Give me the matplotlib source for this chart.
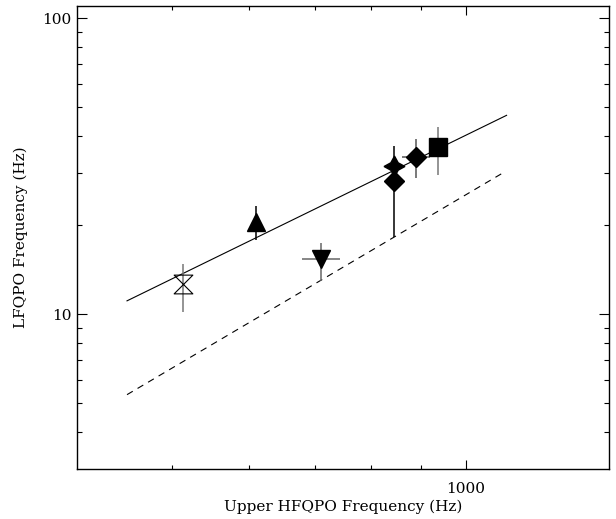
import matplotlib
matplotlib.use("Agg")
import matplotlib.pyplot as plt
from matplotlib.path import Path
from matplotlib.ticker import FixedLocator, NullFormatter

plt.rcParams['font.family'] = ['DejaVu Serif']

# upper HFQPO vs LFQPO frequencies, one marker per source
nu_upper = [513, 609, 710, 844, 844, 889, 935]
nu_lf = [12.7, 20.5, 15.4, 31.8, 28.2, 34.0, 36.6]
lf_lo = [10.2, 17.8, 13.0, 28.5, 18.2, 28.8, 29.6]
lf_hi = [14.8, 23.2, 17.4, 37.1, 31.0, 39.1, 42.8]
upper_lo = [513, 609, 679, 844, 844, 859, 935]
upper_hi = [513, 609, 743, 844, 844, 919, 935]

# power-law relations (solid: fit, dashed: lower bound)
fit_x = [450, 1100]
fit_y = [11.1, 47.0]
bound_x = [450, 1090]
bound_y = [5.35, 30.0]

hourglass = Path([(-1, 1), (1, 1), (-1, -1), (1, -1), (-1, 1)],
                 [Path.MOVETO, Path.LINETO, Path.LINETO, Path.LINETO, Path.CLOSEPOLY])

markers = [hourglass, '^', 'v', (4, 1, 0), 'D', 'D', 's']
sizes = [13.5, 13, 13, 15, 10.5, 10.5, 13]
filled = [False, True, True, True, True, True, True]
bar_colors = ['#777777', 'black', '#666666', 'black', 'black', '#555555', '#777777']

fig = plt.figure(figsize=(6.16, 5.19), dpi=100)
ax = fig.add_axes([0.125, 0.0963, 0.8636, 0.8921])
ax.set_xscale('log')
ax.set_yscale('log')

ax.plot(fit_x, fit_y, color='black', lw=0.8)
ax.plot(bound_x, bound_y, color='black', lw=0.8, ls=(0, (6, 5)))

for i in range(len(nu_upper)):
    x, y = nu_upper[i], nu_lf[i]
    yerr = [[y - lf_lo[i]], [lf_hi[i] - y]]
    xerr = [[x - upper_lo[i]], [upper_hi[i] - x]]
    ax.errorbar([x], [y], yerr=yerr, xerr=xerr, fmt='none',
                ecolor=bar_colors[i], elinewidth=1.1, capsize=0, zorder=2)
    if filled[i]:
        ax.plot([x], [y], marker=markers[i], ms=sizes[i], color='black',
                mec='black', ls='none', zorder=3)
    else:
        ax.plot([x], [y], marker=markers[i], ms=sizes[i], mfc='none',
                mec='black', mew=0.8, ls='none', zorder=3)

ax.set_xlim(400, 1400)
ax.set_ylim(3, 110)

ax.xaxis.set_major_locator(FixedLocator([1000]))
ax.xaxis.set_minor_locator(FixedLocator([500, 600, 700, 800, 900]))
ax.set_xticklabels(['1000'])
ax.xaxis.set_minor_formatter(NullFormatter())

ax.yaxis.set_major_locator(FixedLocator([10, 100]))
ax.yaxis.set_minor_locator(FixedLocator([4, 5, 6, 7, 8, 9, 20, 30, 40, 50, 60, 70, 80, 90]))
ax.set_yticklabels(['10', '100'])
ax.yaxis.set_minor_formatter(NullFormatter())

ax.tick_params(which='both', direction='in', top=True, right=True, width=0.8, labelsize=11)
ax.tick_params(axis='x', which='major', length=6.5, pad=9)
ax.tick_params(axis='x', which='minor', length=3.2)
ax.tick_params(axis='y', which='major', length=7.2, pad=4)
ax.tick_params(axis='y', which='minor', length=3.6)
for s in ax.spines.values():
    s.set_linewidth(1.0)

ax.set_xlabel('Upper HFQPO Frequency (Hz)', fontsize=11, labelpad=3)
ax.set_ylabel('LFQPO Frequency (Hz)', fontsize=11, labelpad=10)

fig.savefig('out.png', dpi=100)
